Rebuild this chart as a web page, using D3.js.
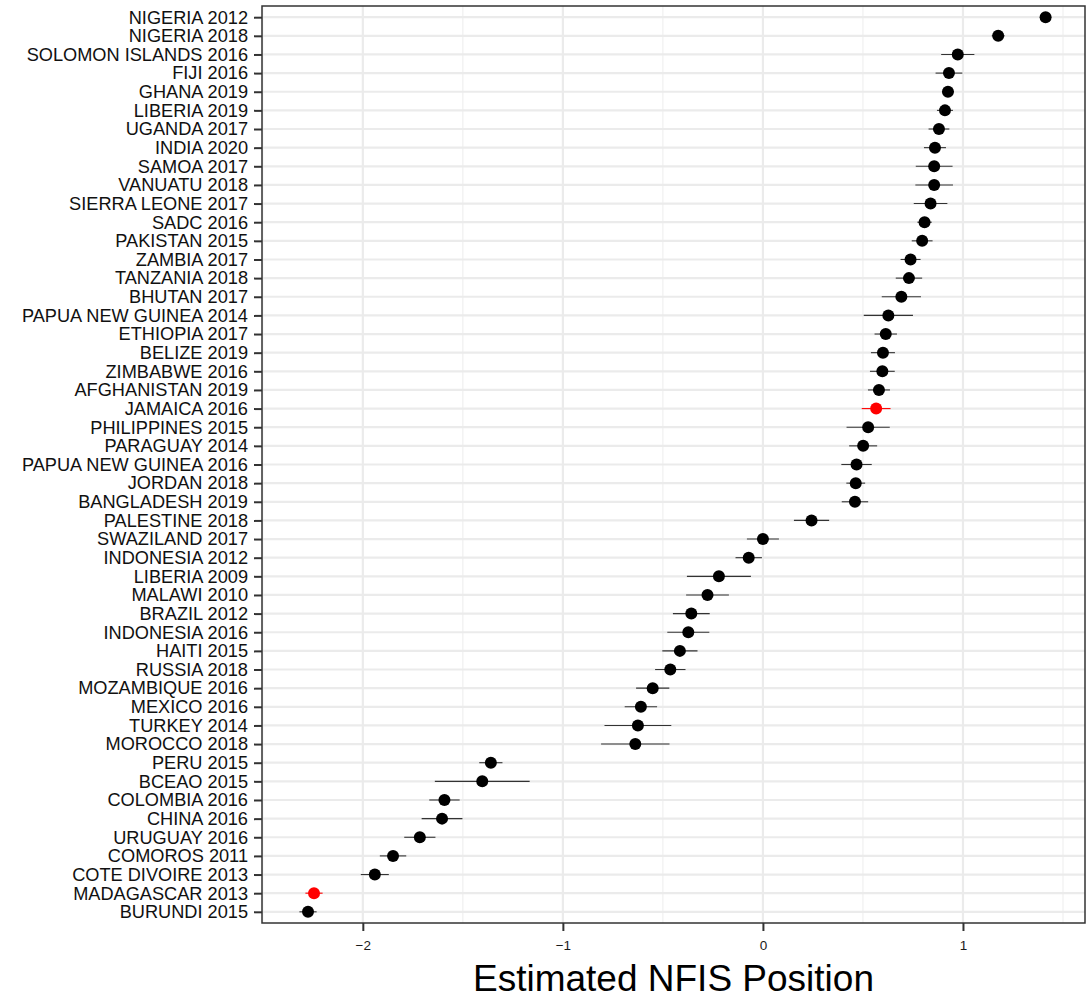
<!DOCTYPE html>
<html>
<head>
<meta charset="utf-8">
<script src="https://cdn.jsdelivr.net/npm/d3@7"></script>
<style>
  body { margin: 0; background: #fff; }
  svg { display: block; font-family: "Liberation Sans", Arial, sans-serif; }
</style>
</head>
<body>
<div id="chart"></div>
<script>
// categories, top to bottom
const labels = [
  'NIGERIA 2012', 'NIGERIA 2018', 'SOLOMON ISLANDS 2016', 'FIJI 2016', 'GHANA 2019',
  'LIBERIA 2019', 'UGANDA 2017', 'INDIA 2020', 'SAMOA 2017', 'VANUATU 2018',
  'SIERRA LEONE 2017', 'SADC 2016', 'PAKISTAN 2015', 'ZAMBIA 2017', 'TANZANIA 2018',
  'BHUTAN 2017', 'PAPUA NEW GUINEA 2014', 'ETHIOPIA 2017', 'BELIZE 2019', 'ZIMBABWE 2016',
  'AFGHANISTAN 2019', 'JAMAICA 2016', 'PHILIPPINES 2015', 'PARAGUAY 2014', 'PAPUA NEW GUINEA 2016',
  'JORDAN 2018', 'BANGLADESH 2019', 'PALESTINE 2018', 'SWAZILAND 2017', 'INDONESIA 2012',
  'LIBERIA 2009', 'MALAWI 2010', 'BRAZIL 2012', 'INDONESIA 2016', 'HAITI 2015',
  'RUSSIA 2018', 'MOZAMBIQUE 2016', 'MEXICO 2016', 'TURKEY 2014', 'MOROCCO 2018',
  'PERU 2015', 'BCEAO 2015', 'COLOMBIA 2016', 'CHINA 2016', 'URUGUAY 2016',
  'COMOROS 2011', 'COTE DIVOIRE 2013', 'MADAGASCAR 2013', 'BURUNDI 2015'
];

// estimated position
const estimates = [
  1.413, 1.176, 0.974, 0.930, 0.925,
  0.910, 0.880, 0.860, 0.856, 0.856,
  0.838, 0.808, 0.796, 0.738, 0.730,
  0.692, 0.627, 0.614, 0.600, 0.597,
  0.580, 0.566, 0.526, 0.501, 0.468,
  0.464, 0.460, 0.243, 0.000, -0.071,
  -0.220, -0.277, -0.358, -0.373, -0.415,
  -0.463, -0.551, -0.610, -0.625, -0.638,
  -1.360, -1.403, -1.592, -1.604, -1.715,
  -1.849, -1.940, -2.244, -2.274
];

// half width of the interval
const spreads = [
  0.010, 0.032, 0.083, 0.067, 0.030,
  0.040, 0.052, 0.055, 0.092, 0.094,
  0.084, 0.036, 0.052, 0.050, 0.066,
  0.098, 0.123, 0.056, 0.060, 0.062,
  0.055, 0.072, 0.108, 0.070, 0.076,
  0.047, 0.066, 0.088, 0.080, 0.066,
  0.160, 0.107, 0.092, 0.105, 0.088,
  0.076, 0.083, 0.081, 0.167, 0.171,
  0.058, 0.237, 0.076, 0.102, 0.078,
  0.066, 0.070, 0.043, 0.043
];

// highlighted cases
const highlighted = ['JAMAICA 2016', 'MADAGASCAR 2013'];

const xTicks = [-2, -1, 0, 1];
const xMinor = [-2.5, -1.5, -0.5, 0.5, 1.5];

const width = 1086;
const height = 998;
const margin = { top: 6, right: 1, bottom: 75, left: 262 };

const data = labels.map((name, i) => ({
  name: name,
  value: estimates[i],
  lo: estimates[i] - spreads[i],
  hi: estimates[i] + spreads[i]
}));

const svg = d3.select('#chart')
  .append('svg')
  .attr('width', width)
  .attr('height', height);

// ggplot-like 5% expansion
const lo = d3.min(data, d => d.lo);
const hi = d3.max(data, d => d.hi);
const pad = (hi - lo) * 0.05;

const xScale = d3.scaleLinear()
  .domain([lo - pad, hi + pad])
  .range([margin.left, width - margin.right]);

const yScale = d3.scalePoint()
  .domain(labels)
  .range([margin.top, height - margin.bottom])
  .padding(0.6);

const panelW = width - margin.right - margin.left;
const panelH = height - margin.bottom - margin.top;

// grid
const grid = svg.append('g');
grid.selectAll('.minor-x')
  .data(xMinor.filter(v => v > xScale.domain()[0] && v < xScale.domain()[1]))
  .enter()
  .append('line')
  .attr('x1', d => xScale(d))
  .attr('x2', d => xScale(d))
  .attr('y1', margin.top)
  .attr('y2', height - margin.bottom)
  .style('stroke', '#f0f0f0')
  .style('stroke-width', 1.2);

grid.selectAll('.major-x')
  .data(xTicks)
  .enter()
  .append('line')
  .attr('x1', d => xScale(d))
  .attr('x2', d => xScale(d))
  .attr('y1', margin.top)
  .attr('y2', height - margin.bottom)
  .style('stroke', '#ebebeb')
  .style('stroke-width', 2.2);

grid.selectAll('.major-y')
  .data(labels)
  .enter()
  .append('line')
  .attr('x1', margin.left)
  .attr('x2', width - margin.right)
  .attr('y1', d => yScale(d))
  .attr('y2', d => yScale(d))
  .style('stroke', '#ebebeb')
  .style('stroke-width', 2.2);

// error bars
svg.append('g')
  .selectAll('line')
  .data(data)
  .enter()
  .append('line')
  .attr('x1', d => xScale(d.lo))
  .attr('x2', d => xScale(d.hi))
  .attr('y1', d => yScale(d.name))
  .attr('y2', d => yScale(d.name))
  .style('stroke', d => highlighted.includes(d.name) ? '#ff0000' : '#333')
  .style('stroke-width', 1.1);

// points
svg.append('g')
  .selectAll('circle')
  .data(data)
  .enter()
  .append('circle')
  .attr('cx', d => xScale(d.value))
  .attr('cy', d => yScale(d.name))
  .attr('r', 6)
  .style('fill', d => highlighted.includes(d.name) ? '#ff0000' : '#000');

// panel border
svg.append('rect')
  .attr('x', margin.left)
  .attr('y', margin.top)
  .attr('width', panelW)
  .attr('height', panelH)
  .style('fill', 'none')
  .style('stroke', '#333')
  .style('stroke-width', 1.5);

// x axis (unicode minus like ggplot)
const xAxis = svg.append('g')
  .attr('transform', `translate(0, ${height - margin.bottom})`)
  .call(d3.axisBottom(xScale).tickValues(xTicks).tickSize(8).tickPadding(9)
    .tickFormat(d => d < 0 ? '\u2212' + Math.abs(d) : String(d)));
xAxis.select('.domain').remove();
xAxis.attr('font-size', null);
xAxis.selectAll('.tick line').style('stroke', '#333').style('stroke-width', 2);
xAxis.selectAll('.tick text')
  .style('font-size', '13.5px')
  .style('fill', '#1a1a1a');

// y axis
const yAxis = svg.append('g')
  .attr('transform', `translate(${margin.left}, 0)`)
  .call(d3.axisLeft(yScale).tickSize(8).tickPadding(6));
yAxis.select('.domain').remove();
yAxis.attr('font-size', null);
yAxis.selectAll('.tick line').style('stroke', '#333').style('stroke-width', 2);
yAxis.selectAll('.tick text')
  .style('font-size', '18.2px')
  .style('fill', '#111');

// axis title
svg.append('text')
  .attr('x', margin.left + panelW / 2)
  .attr('y', 991)
  .attr('text-anchor', 'middle')
  .style('font-size', '37px')
  .style('fill', '#000')
  .text('Estimated NFIS Position');
</script>
</body>
</html>
